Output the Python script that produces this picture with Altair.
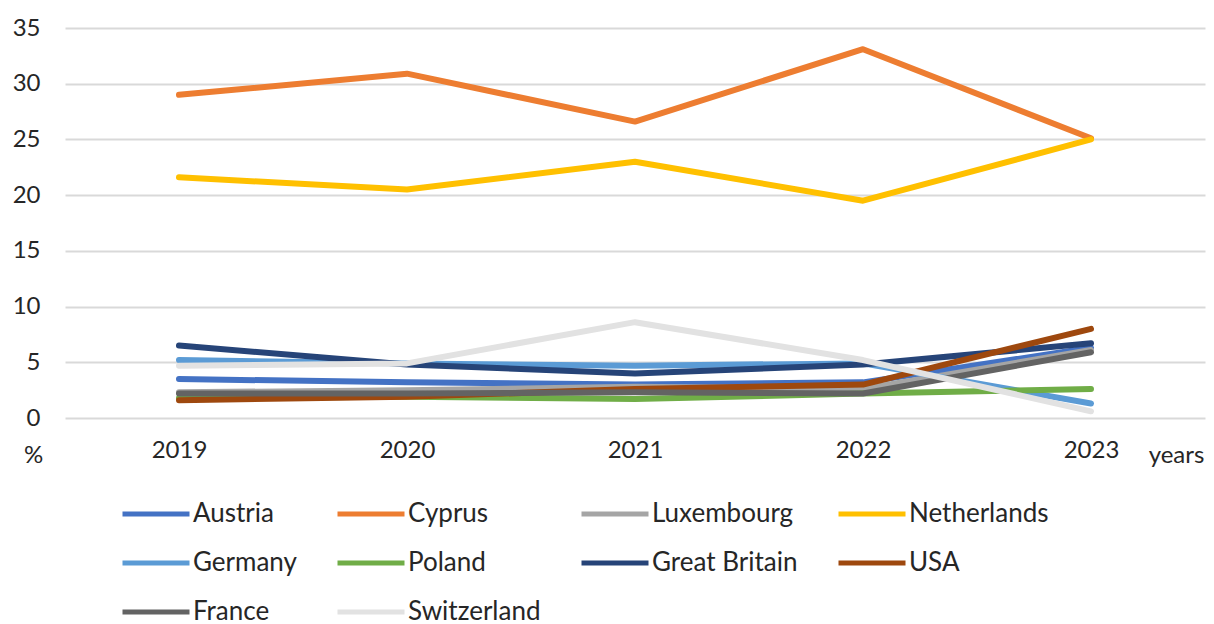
import altair as alt
import pandas as pd

years = ["2019", "2020", "2021", "2022", "2023"]
countries = ["Austria", "Cyprus", "Luxembourg", "Netherlands", "Germany",
             "Poland", "Great Britain", "USA", "France", "Switzerland"]
austria = [3.5, 3.2, 3.0, 3.2, 6.3]
cyprus = [29.0, 30.9, 26.6, 33.1, 25.1]
luxembourg = [2.3, 2.5, 2.8, 2.6, 6.1]
netherlands = [21.6, 20.5, 23.0, 19.5, 25.0]
germany = [5.2, 4.9, 4.7, 4.9, 1.3]
poland = [1.8, 1.9, 1.7, 2.2, 2.6]
great_britain = [6.5, 4.8, 4.0, 4.8, 6.7]
usa = [1.6, 1.9, 2.6, 3.0, 8.0]
france = [2.2, 2.2, 2.3, 2.2, 5.9]
switzerland = [4.7, 4.9, 8.6, 5.2, 0.6]
colors = ["#4472C4", "#ED7D31", "#A5A5A5", "#FFC000", "#5B9BD5",
          "#70AD47", "#264478", "#9E480E", "#636363", "#E2E2E2"]

series = [austria, cyprus, luxembourg, netherlands, germany,
          poland, great_britain, usa, france, switzerland]
rows = []
for i, (c, vals) in enumerate(zip(countries, series)):
    for y, v in zip(years, vals):
        rows.append({"country": c, "year": y, "value": v, "ord": i})
df = pd.DataFrame(rows)

FONT = "Lato"
TXT = "#262626"

chart = alt.Chart(df).mark_line(strokeWidth=6, strokeCap="round", strokeJoin="round").encode(
    x=alt.X("year:O", sort=years,
            scale=alt.Scale(type="point", padding=0.5),
            axis=alt.Axis(title="years", labelAngle=0, domain=False, ticks=False,
                          labelPadding=20, labelFontSize=24, labelColor=TXT, labelFont=FONT,
                          titleFontSize=24, titleFontWeight="normal", titleColor=TXT, titleFont=FONT,
                          titleAngle=0, titleAlign="center", titleBaseline="middle",
                          titleX=1111, titleY=37)),
    y=alt.Y("value:Q", scale=alt.Scale(domain=[0, 35]),
            axis=alt.Axis(title="%", values=[0, 5, 10, 15, 20, 25, 30, 35],
                          domain=False, ticks=False, labelPadding=25,
                          labelFontSize=24, labelColor=TXT, labelFont=FONT,
                          gridColor="#D9D9D9", gridWidth=2,
                          titleFontSize=24, titleFontWeight="normal", titleColor=TXT, titleFont=FONT,
                          titleAngle=0, titleAlign="center", titleBaseline="middle",
                          titleX=-32, titleY=427)),
    color=alt.Color("country:N", sort=countries,
                    scale=alt.Scale(domain=countries, range=colors),
                    legend=alt.Legend(title=None, orient="none", direction="horizontal",
                                      legendX=55, legendY=450,
                                      columns=4, symbolType="stroke", symbolSize=4489,
                                      symbolStrokeWidth=5, labelFontSize=26, labelFont=FONT,
                                      labelColor=TXT, labelOffset=1, rowPadding=-18,
                                      columnPadding=30, gridAlign="each", padding=0,
                                      labelLimit=300)),
    detail="ord:O",
    order="ord:O",
).properties(
    width=1140, height=390,
    padding={"left": 57, "top": 20, "right": 1, "bottom": 214},
    autosize=alt.AutoSizeParams(type="none"),
).configure_view(stroke=None).configure_axisX(grid=False)

chart.save("out.html", embed_options={"renderer": "svg", "actions": False})
